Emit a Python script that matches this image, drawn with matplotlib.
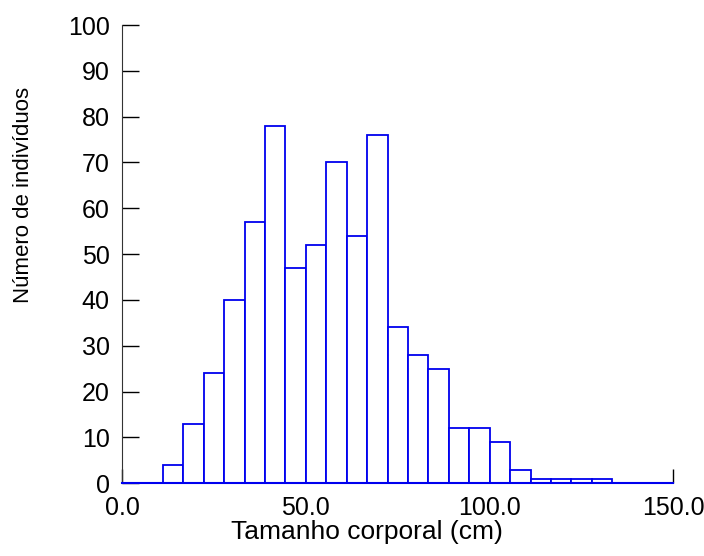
import matplotlib
matplotlib.use("Agg")
from matplotlib import pyplot as plt

plt.rcParams['font.family'] = ['Liberation Sans', 'DejaVu Sans']

# histogram bins (cm) and counts
bin_start = 11.1
bin_width = 5.56
counts = [4, 13, 24, 40, 57, 78, 47, 52, 70, 54, 76, 34, 28, 25, 12, 12, 9, 3, 1, 1, 1, 1]
lefts = [bin_start + i * bin_width for i in range(len(counts))]

x_ticks = [0, 50, 100, 150]
x_tick_labels = ["0.0", "50.0", "100.0", "150.0"]
y_ticks = list(range(0, 101, 10))

fig = plt.figure(figsize=(7.04, 5.56), dpi=100)
ax = fig.add_axes([0.1733, 0.1308, 0.7831, 0.8242])
ax.set_axisbelow(True)

ax.bar(lefts, counts, width=bin_width, align="edge",
       facecolor="white", edgecolor="#0000ee", linewidth=1.3, zorder=2)

ax.set_xlim(0, 150)
ax.set_ylim(0, 100)
ax.set_xticks(x_ticks)
ax.set_xticklabels(x_tick_labels)
ax.set_yticks(y_ticks)

for s in ["top", "right"]:
    ax.spines[s].set_visible(False)
ax.spines["left"].set_color("#333333")
ax.spines["bottom"].set_color("#0000ee")
ax.spines["bottom"].set_linewidth(1.5)
ax.spines["bottom"].set_zorder(3)

ax.tick_params(axis="y", direction="in", length=12, width=1, pad=9,
               labelsize=18, colors="black")
ax.tick_params(axis="x", direction="in", length=10, width=1, pad=9,
               labelsize=18, colors="black")

ax.set_xlabel("Tamanho corporal (cm)", fontsize=19)
ax.xaxis.set_label_coords(0.444, -0.08)
ax.set_ylabel("Número de indivíduos", fontsize=16)
ax.yaxis.set_label_coords(-0.159, 0.629)

fig.savefig("out.png", dpi=100)
